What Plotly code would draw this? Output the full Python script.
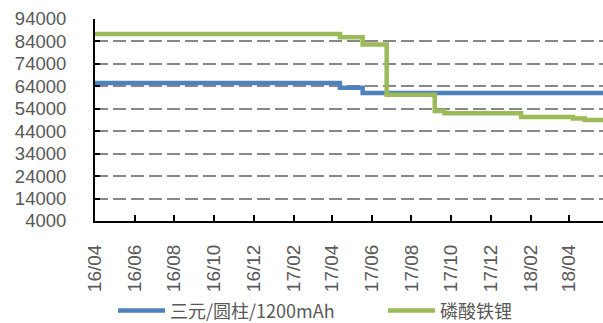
import plotly.graph_objects as go

# Data (step series)
ncm_dates = ["2016-04-01", "2017-04-13", "2017-05-18", "2018-05-23"]
ncm_values = [65500, 63400, 61000, 61000]

lfp_dates = ["2016-04-01", "2017-04-13", "2017-05-18", "2017-06-24", "2017-09-06",
             "2017-09-21", "2018-01-17", "2018-04-07", "2018-04-25", "2018-05-23"]
lfp_values = [87300, 85900, 82600, 60300, 53000, 52000, 50300, 49700, 49000, 49000]

tick_vals = ["2016-04-01", "2016-06-01", "2016-08-01", "2016-10-01", "2016-12-01",
             "2017-02-01", "2017-04-01", "2017-06-01", "2017-08-01", "2017-10-01",
             "2017-12-01", "2018-02-01", "2018-04-01"]
tick_text = ["16/04", "16/06", "16/08", "16/10", "16/12", "17/02", "17/04",
             "17/06", "17/08", "17/10", "17/12", "18/02", "18/04"]
y_ticks = [4000, 14000, 24000, 34000, 44000, 54000, 64000, 74000, 84000, 94000]
y_text = ["4000", "14000", "24000", "34000", "44000", "54000", "64000", "74000",
          "84000", "94000"]

fig = go.Figure()
fig.add_trace(go.Scatter(x=ncm_dates, y=ncm_values, mode="lines", line_shape="hv",
                         name="三元/圆柱/1200mAh", legend="legend",
                         line=dict(color="#4F81BD", width=4.5)))
fig.add_trace(go.Scatter(x=lfp_dates, y=lfp_values, mode="lines", line_shape="hv",
                         name="磷酸铁锂", legend="legend2",
                         line=dict(color="#9BBB59", width=4.5)))

font_fam = "Liberation Sans, Arial, Noto Sans CJK SC, sans-serif"
leg_font = dict(size=18, color="#595959", family="Noto Sans CJK SC, sans-serif")
fig.update_layout(
    width=603, height=323,
    margin=dict(l=95, r=0, t=19, b=102, autoexpand=False),
    paper_bgcolor="white", plot_bgcolor="white",
    font=dict(family=font_fam, size=18, color="#595959"),
    showlegend=True,
    legend=dict(orientation="h", xref="container", x=113 / 603, y=-0.445,
                xanchor="left", yanchor="middle", font=leg_font, itemwidth=47,
                bgcolor="rgba(0,0,0,0)"),
    legend2=dict(orientation="h", xref="container", x=383 / 603, y=-0.445,
                 xanchor="left", yanchor="middle", font=leg_font, itemwidth=47,
                 bgcolor="rgba(0,0,0,0)"),
    xaxis=dict(type="date", range=["2016-04-01", "2018-05-23"],
               tickvals=tick_vals, ticktext=tick_text, tickangle=-90,
               ticks="inside", ticklen=6, tickcolor="black", tickwidth=1.5,
               showline=True, linecolor="black", linewidth=2,
               showgrid=False, zeroline=False, automargin=False,
               tickfont=dict(size=19, color="#595959"), ticklabelstandoff=14),
    yaxis=dict(range=[4000, 94000], tickvals=y_ticks, ticktext=y_text,
               ticks="inside", ticklen=5, tickcolor="black", tickwidth=1.5,
               showline=True, linecolor="black", linewidth=2,
               showgrid=True, gridcolor="#888888", gridwidth=2, griddash="13px,5px",
               zeroline=False, automargin=False,
               tickfont=dict(size=18.5, color="#595959"), ticklabelstandoff=23),
)

fig.write_html("out.html", config={"displayModeBar": False},
               post_script="document.body.style.margin='0';document.body.style.overflow='hidden';")
